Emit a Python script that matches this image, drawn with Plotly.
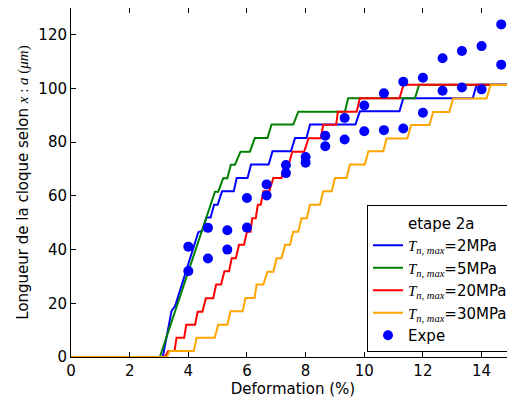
import plotly.graph_objects as go

# ---- data ----
blue_x = [0, 3.13, 3.43, 3.55, 4.34, 4.48, 4.62, 4.76, 4.88, 5.0, 5.15, 5.55, 5.65, 6.02,
          6.14, 6.74, 6.87, 7.5, 7.64, 8.03, 8.15, 9.7, 9.85, 11.2, 11.33, 13.7, 13.83, 15.0]
blue_y = [0, 0, 17.2, 19, 46.5, 47, 52, 52, 56.7, 56.7, 61.7, 61.7, 66.7, 66.7,
          71.7, 71.7, 76.6, 76.6, 81.6, 81.6, 86.6, 86.6, 91.5, 91.5, 96.4, 96.4, 101.4, 101.4]

green_x = [0, 3.03, 4.91, 5.02, 5.19, 5.33, 5.45, 5.59, 5.78, 6.1, 6.27, 6.7, 6.84, 7.58,
           7.75, 9.34, 9.45, 11.73, 11.87, 15.0]
green_y = [0, 0, 61.6, 61.6, 66.6, 66.6, 71.6, 71.6, 76.5, 76.5, 81.6, 81.6, 86.6, 86.6,
           91.4, 91.4, 96.4, 96.4, 101.4, 101.4]

red_x = [0, 3.2, 3.32, 3.53, 3.6, 3.86, 3.93, 4.23, 4.32, 4.48, 4.6, 4.85, 4.95, 5.12,
         5.23, 5.39, 5.48, 5.62, 5.73, 5.9, 6.0, 6.12, 6.18, 6.3, 6.37, 6.47, 6.56, 6.76,
         6.9, 7.18, 7.28, 7.42, 7.55, 7.95, 8.1, 8.52, 8.6, 9.04, 9.1, 9.74, 9.85, 11.2,
         11.34, 15.02]
red_y = [0, 0, 2.2, 2.2, 7.2, 7.2, 12, 12, 16.9, 16.9, 21.9, 21.9, 27, 27,
         31.9, 31.9, 36.8, 36.8, 41.8, 41.8, 46.7, 46.7, 51.7, 51.7, 56.7, 56.7, 61.7, 61.7,
         66.7, 66.7, 71.7, 71.7, 76.5, 76.5, 81.5, 81.5, 86.5, 86.5, 91.4, 91.4, 96.4, 96.4,
         101.4, 101.4]

orange_x = [0, 3.27, 3.36, 4.19, 4.28, 4.9, 5.02, 5.33, 5.44, 5.85, 5.95, 6.26, 6.33, 6.56,
            6.7, 6.9, 7.01, 7.18, 7.3, 7.47, 7.58, 7.75, 7.86, 8.04, 8.15, 8.49, 8.6, 8.89,
            9.0, 9.4, 9.51, 10.02, 10.14, 10.65, 10.76, 11.47, 11.6, 12.22, 12.35, 12.9,
            13.03, 14.17, 14.31, 14.98]
orange_y = [0, 0, 2.2, 2.2, 7.2, 7.2, 12, 12, 17, 17, 22, 22, 27, 27,
            31.8, 31.8, 36.8, 36.8, 41.8, 41.8, 46.7, 46.7, 51.7, 51.7, 56.7, 56.7, 61.7, 61.7,
            66.7, 66.7, 71.7, 71.7, 76.6, 76.6, 81.4, 81.4, 86.4, 86.4, 91.3, 91.3,
            96.3, 96.3, 101.3, 101.3]

expe_x = [4.0, 4.67, 5.33, 6.0, 6.67, 7.33, 8.0, 8.67, 9.33, 10.0, 10.67, 11.33,
          12.0, 12.67, 13.33, 14.0, 14.67]
expe_hi = [41.1, 48.1, 47.2, 59.2, 64.3, 71.5, 74.5, 82.4, 89.0, 93.7, 98.2, 102.5,
           104.0, 111.3, 114.0, 115.8, 123.9]
expe_lo = [32.0, 36.7, 40.0, 48.2, 60.2, 68.5, 72.4, 78.5, 81.0, 84.1, 84.5, 85.1,
           91.0, 99.2, 100.4, 99.7, 108.9]

x_ticks = [0, 2, 4, 6, 8, 10, 12, 14]
y_ticks = [0, 20, 40, 60, 80, 100, 120]

legend_title = "etape 2a"
series_labels = ["2MPa", "5MPa", "20MPa", "30MPa"]

# ---- figure ----
MATH = "font-family:'Liberation Serif'"
def tlabel(s):
    return (f"<span style=\"{MATH}\"><i>T</i><sub><i>n, max</i></sub></span>={s}")

fig = go.Figure()
fig.add_trace(go.Scatter(x=[None], y=[None], mode="lines", name=legend_title,
                         line=dict(color="rgba(0,0,0,0)", width=2)))
for xs, ys, col, lab in [(blue_x, blue_y, "#0000ff", series_labels[0]),
                         (green_x, green_y, "#008000", series_labels[1]),
                         (red_x, red_y, "#ff0000", series_labels[2]),
                         (orange_x, orange_y, "#ffa500", series_labels[3])]:
    fig.add_trace(go.Scatter(x=xs, y=ys, mode="lines", name=tlabel(lab),
                             line=dict(color=col, width=2)))

ex = []
ey = []
for xv, h, l in zip(expe_x, expe_hi, expe_lo):
    ex += [xv, xv]
    ey += [h, l]
fig.add_trace(go.Scatter(x=ex, y=ey, mode="markers", name="Expe",
                         marker=dict(color="#0000ff", size=10, line=dict(width=0))))

axis_common = dict(showgrid=False, zeroline=False, showline=True, linecolor="black",
                   linewidth=1, ticks="inside", ticklen=5, tickcolor="black",
                   automargin=False,
                   tickfont=dict(family="DejaVu Sans", size=15, color="black"))

# the page body adds an 8px offset, so the figure is 8px smaller than the window
fig.update_layout(
    width=507, height=392,
    margin=dict(l=63, r=0, t=0, b=43),
    plot_bgcolor="white", paper_bgcolor="white",
    font=dict(family="DejaVu Sans", size=15, color="black"),
    showlegend=True,
    legend=dict(x=0.9955, xanchor="right", y=0.013, yanchor="bottom",
                bgcolor="white", bordercolor="black", borderwidth=1,
                entrywidth=112, entrywidthmode="pixels",
                font=dict(family="DejaVu Sans", size=15, color="black")),
    xaxis=dict(range=[0, 15.14], tickvals=x_ticks, mirror="ticks",
               title=dict(text="Deformation (%)", standoff=4,
                          font=dict(family="DejaVu Sans", size=15)),
               **axis_common),
    yaxis=dict(range=[0, 130], tickvals=y_ticks, mirror=False,
               title=dict(text=f"Longueur de la cloque selon <span style=\"{MATH}\"><i>x</i> : <i>a</i> (<i>μm</i>)</span>",
                          standoff=6, font=dict(family="DejaVu Sans", size=15)),
               **axis_common),
)

fig.write_html("out.html")
